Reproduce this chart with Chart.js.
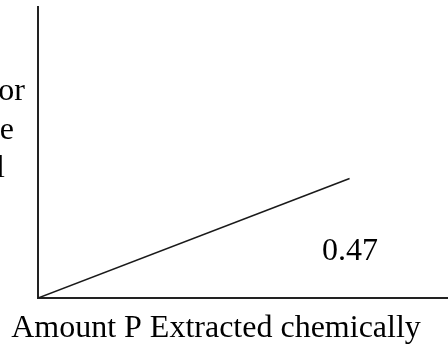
<!DOCTYPE html>
<html>
<head>
<meta charset="utf-8">
<script src="https://cdn.jsdelivr.net/npm/chart.js@4"></script>
<style>
  html, body { margin: 0; padding: 0; background: #fff; }
  #wrap { width: 448px; height: 345px; }
</style>
</head>
<body>
<div id="wrap"><canvas id="chart" width="448" height="345"></canvas></div>
<script>
// datos de la recta (pendiente 0.47)
const xVals = [0, 76];
const yVals = [0, 35.7];
const slopeLabel = '0.47';
const xTitle = 'Amount P Extracted chemically';
const yTitleLines = ['or', 'e', 'l'];
const yTitleRight = [25, 14, 5];

const serif = '"Liberation Serif", "DejaVu Serif", serif';

// textos dibujados a mano sobre el lienzo
const textPlugin = {
    id: 'texts',
    afterDraw(chart) {
        const ctx = chart.ctx;
        ctx.save();
        ctx.fillStyle = '#000';
        ctx.font = '32px ' + serif;
        ctx.textBaseline = 'alphabetic';

        ctx.textAlign = 'center';
        ctx.fillText(xTitle, 216, 337);
        ctx.fillText(slopeLabel, 350, 260);

        ctx.textAlign = 'right';
        yTitleLines.forEach((t, i) => ctx.fillText(t, yTitleRight[i], 100 + i * 38.5));
        ctx.restore();
    }
};

new Chart(document.getElementById('chart'), {
    type: 'scatter',
    data: {
        datasets: [{
            data: xVals.map((x, i) => ({ x: x, y: yVals[i] })),
            showLine: true,
            borderColor: '#1a1a1a',
            borderWidth: 1.6,
            pointRadius: 0,
            fill: false
        }]
    },
    options: {
        responsive: false,
        animation: false,
        layout: { padding: { left: 38, top: 7, right: 0, bottom: 47 } },
        plugins: { legend: { display: false }, tooltip: { enabled: false } },
        scales: {
            x: {
                type: 'linear', min: 0, max: 100,
                ticks: { display: false },
                grid: { display: false, drawTicks: false },
                border: { display: true, color: '#222', width: 2 }
            },
            y: {
                type: 'linear', min: 0, max: 87,
                ticks: { display: false },
                grid: { display: false, drawTicks: false },
                border: { display: true, color: '#222', width: 2 }
            }
        }
    },
    plugins: [textPlugin]
});
</script>
</body>
</html>
